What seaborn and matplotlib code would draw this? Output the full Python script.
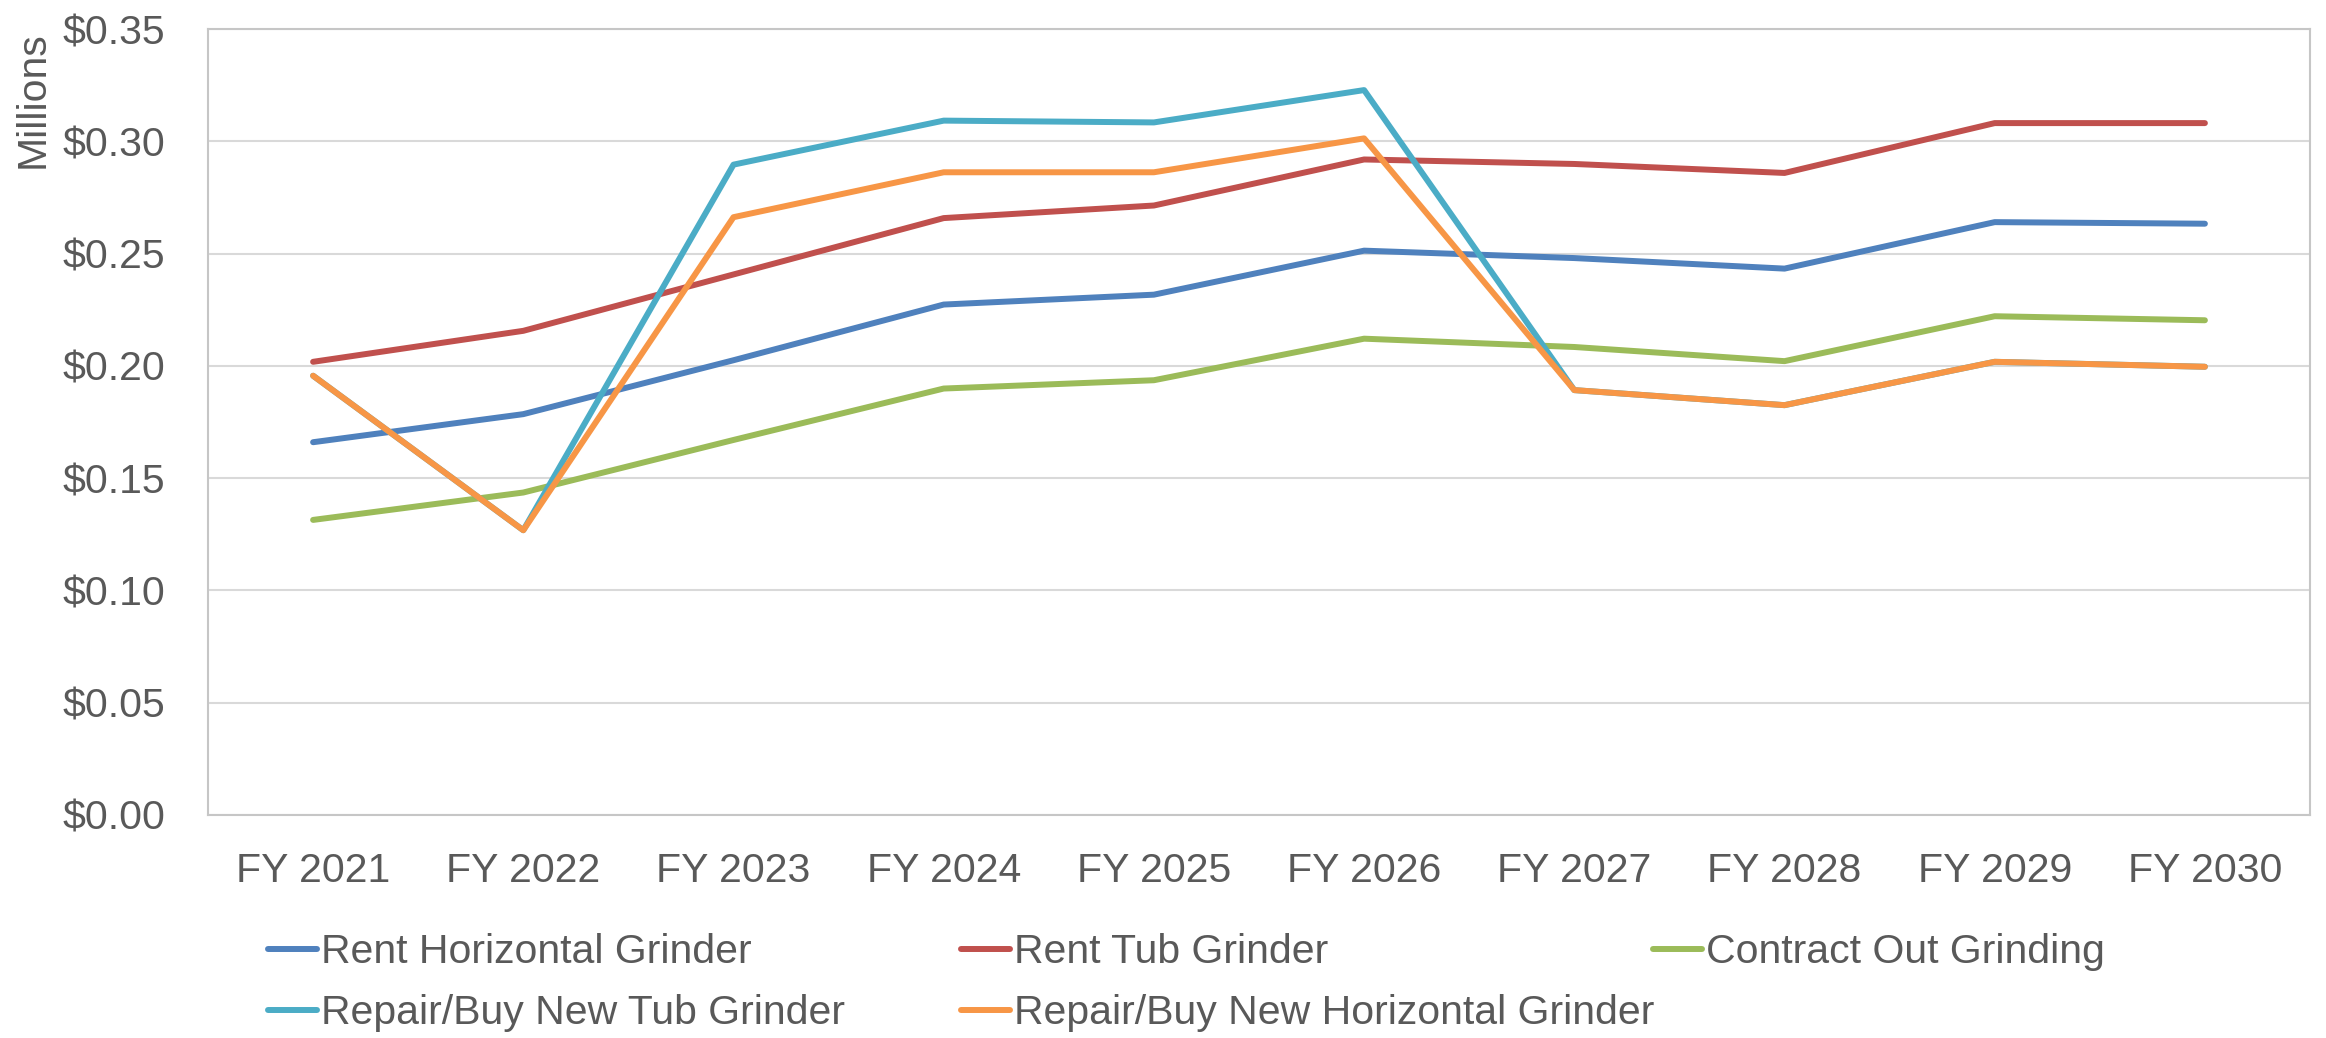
import pandas as pd
import seaborn as sns
import matplotlib.pyplot as plt
from matplotlib import font_manager
from matplotlib.lines import Line2D
from matplotlib.ticker import FuncFormatter

# =========================
# Data ($ millions)
# =========================
years = ["FY 2021", "FY 2022", "FY 2023", "FY 2024", "FY 2025",
         "FY 2026", "FY 2027", "FY 2028", "FY 2029", "FY 2030"]

rent_horizontal = [0.166, 0.1785, 0.2025, 0.2273, 0.2317, 0.2513, 0.2480, 0.2433, 0.2640, 0.2633]
rent_tub = [0.2018, 0.2156, 0.2407, 0.2658, 0.2714, 0.2919, 0.2899, 0.2859, 0.3081, 0.3081]
contract_out = [0.1314, 0.1436, 0.1670, 0.1899, 0.1936, 0.2121, 0.2084, 0.2021, 0.2221, 0.2203]
repair_tub = [0.1956, 0.1268, 0.2896, 0.3092, 0.3084, 0.3228, 0.1892, 0.1825, 0.2018, 0.1996]
repair_horizontal = [0.1956, 0.1268, 0.2662, 0.2862, 0.2862, 0.3013, 0.1892, 0.1825, 0.2018, 0.1996]

series_names = ["Rent Horizontal Grinder", "Rent Tub Grinder", "Contract Out Grinding",
                "Repair/Buy New Tub Grinder", "Repair/Buy New Horizontal Grinder"]
series_values = [rent_horizontal, rent_tub, contract_out, repair_tub, repair_horizontal]
colors = ["#4F81BD", "#C0504D", "#9BBB59", "#4BACC6", "#F79646"]

rows = []
for name, vals in zip(series_names, series_values):
    for yr, v in zip(years, vals):
        rows.append({"year": yr, "cost": v, "series": name})
df = pd.DataFrame(rows)

# =========================
# Style
# =========================
sns.set_theme(style="white")
names = {f.name for f in font_manager.fontManager.ttflist}
if "Liberation Sans Narrow" in names:
    family, fsize = "Liberation Sans Narrow", 33
else:
    family, fsize = "Liberation Sans", 29.5
plt.rcParams["font.family"] = [family, "DejaVu Sans"]
text_color = "#595959"
lw = 4.3

fig = plt.figure(figsize=(23.26, 10.38), dpi=100)
ax = fig.add_axes([208 / 2326, 1 - 815 / 1038, (2310 - 208) / 2326, (815 - 29) / 1038])

sns.lineplot(data=df, x="year", y="cost", hue="series", hue_order=series_names,
             palette=colors, linewidth=lw, sort=False, legend=False, ax=ax,
             solid_capstyle="round", solid_joinstyle="round")

ax.set_xlim(-0.5, len(years) - 0.5)
ax.set_ylim(0, 0.35)
ax.set_yticks([i * 0.05 for i in range(8)])
ax.yaxis.set_major_formatter(FuncFormatter(lambda v, p: f"${v:.2f}"))
ax.set_xlabel("")
ax.set_ylabel("")
ax.yaxis.grid(True, color="#D9D9D9", linewidth=1.5)
ax.set_axisbelow(True)
for s in ax.spines.values():
    s.set_color("#C6C6C6")
    s.set_linewidth(1.5)

ax.tick_params(axis="y", length=0, pad=31, labelsize=fsize, labelcolor=text_color)
ax.tick_params(axis="x", length=0, pad=27, labelsize=fsize, labelcolor=text_color)

fig.text(33 / 2326, 1 - 100 / 1038, "Millions", rotation=90, ha="center", va="center",
         fontsize=fsize, color=text_color)

# =========================
# Legend (Excel style: fixed width columns, two rows)
# =========================
col_x = [268 / 2326, 961 / 2326, 1653 / 2326]
row_y = [1 - 952 / 1038, 1 - 1013 / 1038]
slots = [(0, 0), (1, 0), (2, 0), (0, 1), (1, 1)]
for name, color, (c, r) in zip(series_names, colors, slots):
    h = Line2D([], [], color=color, linewidth=lw, solid_capstyle="round")
    fig.legend([h], [name], loc="center left", bbox_to_anchor=(col_x[c], row_y[r]),
               frameon=False, fontsize=fsize, labelcolor=text_color,
               borderpad=0, borderaxespad=0, handlelength=1.2, handletextpad=0.1)

plt.savefig("out.png", dpi=100)
plt.close()
